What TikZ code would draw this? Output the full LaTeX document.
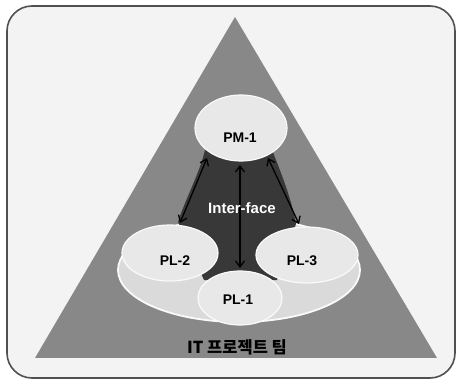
\documentclass[tikz,border=0pt]{standalone}
\usepackage{fontspec}
\setmainfont{Liberation Sans}
\newfontfamily\kr{Noto Sans CJK KR}
\usetikzlibrary{arrows.meta,shapes.geometric}
\definecolor{bgc}{HTML}{F3F3F3}
\definecolor{framec}{HTML}{505050}
\definecolor{tric}{HTML}{888888}
\definecolor{teamc}{HTML}{DADADA}
\definecolor{orbc}{HTML}{E8E8E8}
\definecolor{rimc}{HTML}{FAFAFA}
\definecolor{darkc}{HTML}{383838}
\begin{document}
\begin{tikzpicture}[x=1pt,y=-1pt,
  lbl/.style={font=\fontsize{14}{16}\selectfont\bfseries, text=black, inner sep=0pt},
  orb/.style={ellipse, draw=rimc, line width=1.2pt, fill=orbc, inner sep=0pt},
  team/.style={ellipse, draw=rimc, line width=1.8pt, fill=teamc, inner sep=0pt},
  link/.style={{Straight Barb[length=6pt,width=9pt]}-{Straight Barb[length=6pt,width=9pt]}, line width=1.3pt, draw=black}]
\useasboundingbox (0,0) rectangle (459,385);
% frame and triangle
\draw[framec, line width=1.6pt, fill=bgc, rounded corners=25pt] (7,6) rectangle (455,378);
\fill[tric] (235,17) -- (437,358) -- (35,358) -- cycle;
% team ellipse
\node[team, minimum width=242pt, minimum height=104pt] (team) at (239,270) {};
% interface region
\fill[darkc] (205,140) -- (205,150) .. controls (200,172) and (185,200) .. (178,222)
  -- (204,280) -- (240,281) -- (277,280) -- (296,224)
  .. controls (292,200) and (280,170) .. (272,150) -- (272,140) -- cycle;
% member ellipses
\node[orb, minimum width=96pt, minimum height=56pt] (pl2) at (170,253) {};
\node[orb, minimum width=102pt, minimum height=56pt] (pl3) at (307,255) {};
\node[orb, minimum width=84pt, minimum height=54pt] (pl1) at (240,298) {};
\node[orb, minimum width=92pt, minimum height=66pt] (pm) at (241,128) {};
% arrows
\coordinate (aL1) at (207,158);
\coordinate (aL2) at (180,223);
\coordinate (aM1) at (240,165);
\coordinate (aM2) at (240,268);
\coordinate (aR1) at (268,158);
\coordinate (aR2) at (299,224);
\draw[link] (aL1) -- (aL2);
\draw[link] (aM1) -- (aM2);
\draw[link] (aR1) -- (aR2);
% labels
\node[lbl] (tpm) at (240,138) {PM-1};
\node[lbl, text=white, font=\fontsize{15}{17}\selectfont\bfseries] (tif) at (242,208) {Inter-face};
\node[lbl] (tpl2) at (175,261) {PL-2};
\node[lbl] (tpl3) at (302,261) {PL-3};
\node[lbl] (tpl1) at (238,300) {PL-1};
\node[lbl, font=\kr\fontsize{16.5}{18}\selectfont\bfseries] (tteam) at (237,347) {IT 프로젝트 팀};
\end{tikzpicture}
\end{document}
